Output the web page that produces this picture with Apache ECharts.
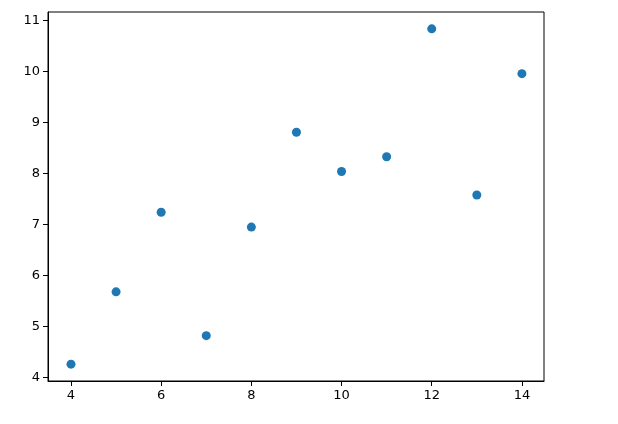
<!DOCTYPE html>
<html>
<head>
<meta charset="utf-8">
<script src="https://cdn.jsdelivr.net/npm/echarts@6/dist/echarts.min.js"></script>
<style>
  html, body { margin: 0; padding: 0; background: #fff; }
  #chart { width: 618px; height: 424px; }
</style>
</head>
<body>
<div id="chart"></div>
<script>
// 散点数据
const xValues = [10, 8, 13, 9, 11, 14, 6, 4, 12, 7, 5];
const yValues = [8.04, 6.95, 7.58, 8.81, 8.33, 9.96, 7.24, 4.26, 10.84, 4.82, 5.68];
const xTicks = [4, 6, 8, 10, 12, 14];
const yTicks = [4, 5, 6, 7, 8, 9, 10, 11];

const chart = echarts.init(document.getElementById('chart'), null, { renderer: 'canvas' });

const labelStyle = {
  color: '#000',
  fontFamily: 'DejaVu Sans',
  fontSize: 13
};

const option = {
  animation: false,
  grid: {
    left: 48,
    right: 74,
    top: 12,
    bottom: 43,
    show: true,
    borderColor: '#000',
    borderWidth: 1
  },
  xAxis: {
    type: 'value',
    min: 3.49,
    max: 14.49,
    splitLine: { show: false },
    axisLine: { show: true, lineStyle: { color: '#000' } },
    axisTick: { show: true, length: 5, customValues: xTicks, lineStyle: { color: '#000' } },
    axisLabel: Object.assign({ customValues: xTicks, margin: 8 }, labelStyle)
  },
  yAxis: {
    type: 'value',
    min: 3.93,
    max: 11.17,
    splitLine: { show: false },
    axisLine: { show: true, lineStyle: { color: '#000' } },
    axisTick: { show: true, length: 5, customValues: yTicks, lineStyle: { color: '#000' } },
    axisLabel: Object.assign({ customValues: yTicks, margin: 8 }, labelStyle)
  },
  series: [
    {
      type: 'scatter',
      symbolSize: 9,
      itemStyle: { color: '#1f77b4', opacity: 1 },
      data: xValues.map((x, i) => [x, yValues[i]])
    }
  ]
};

chart.setOption(option);
</script>
</body>
</html>
